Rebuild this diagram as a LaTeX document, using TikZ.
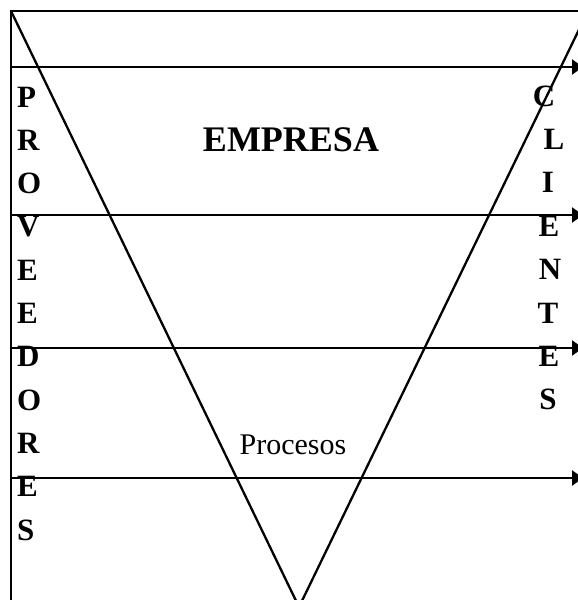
\documentclass[tikz,border=0pt]{standalone}
\usepackage{fontspec}
\setmainfont{Liberation Serif}
\usetikzlibrary{arrows.meta}

\tikzset{
  letra/.style={font=\fontsize{31}{31}\selectfont\bfseries, inner sep=0pt},
  flecha/.style={-{Triangle[length=11pt,width=15pt]}},
}

\begin{document}
\begin{tikzpicture}[x=1pt,y=-1pt,line width=2.3pt]
  \useasboundingbox (0,0) rectangle (578,600);

  % marco
  \coordinate (M) at (11,11);
  \coordinate (MD) at (640,11);
  \coordinate (MB) at (11,640);
  \draw (MD) -- (M) -- (MB);

  % embudo
  \coordinate (A) at (11,11);
  \coordinate (B) at (299,607);
  \coordinate (C) at (588,11);
  \draw (A) -- (B) -- (C);

  % flechas
  \foreach \n/\y in {1/67, 2/215, 3/348, 4/478} {
    \coordinate (L\n) at (11,\y);
    \coordinate (R\n) at (583,\y);
    \draw [flecha] (L\n) -- (R\n);
  }

  \node (empresa) [font=\fontsize{36}{36}\selectfont\bfseries, inner sep=0pt] at (291,140) {EMPRESA};
  \node (procesos) [font=\fontsize{30}{30}\selectfont, inner sep=0pt] at (293,445) {Procesos};

  % proveedores
  \foreach \l [count=\i from 0] in {P,R,O,V,E,E,D,O,R,E,S} {
    \node (p\i) [letra, anchor=west] at (16,{97+43.3*\i}) {\l};
  }

  % clientes
  \foreach \l/\x [count=\i from 0] in {C/544,L/554,I/548,E/549,N/550,T/548,E/549,S/548} {
    \node (c\i) [letra] at (\x,{96+43.4*\i}) {\l};
  }

\end{tikzpicture}
\end{document}
